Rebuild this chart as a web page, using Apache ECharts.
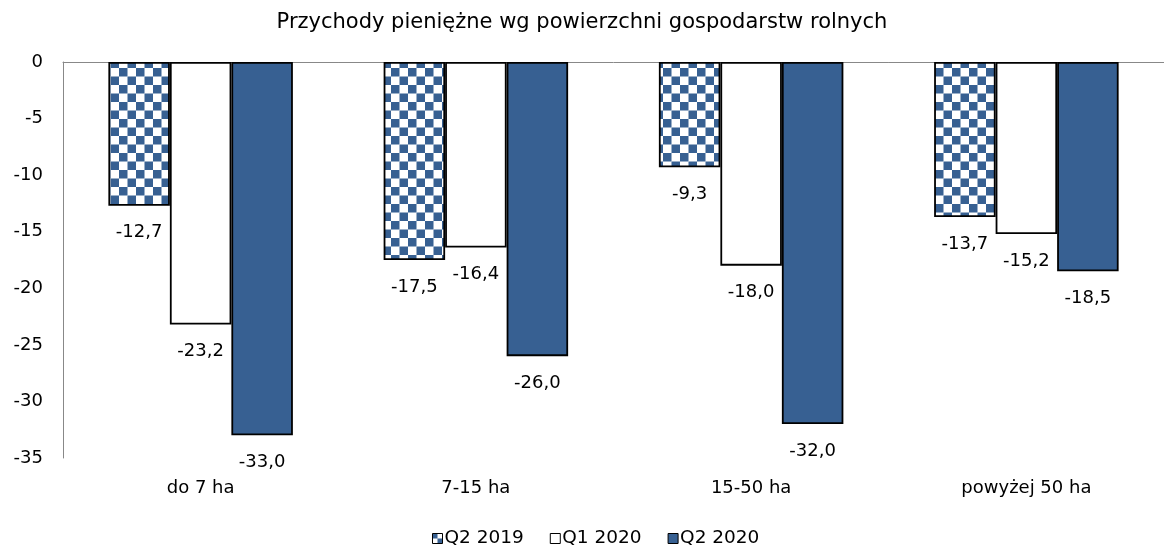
<!DOCTYPE html>
<html>
<head>
<meta charset="utf-8">
<script src="https://cdn.jsdelivr.net/npm/echarts@6/dist/echarts.min.js"></script>
<style>
  html, body { margin: 0; padding: 0; background: #fff; }
  #chart { width: 1164px; height: 556px; }
</style>
</head>
<body>
<div id="chart"></div>
<script>
const FONT = '"DejaVu Sans", Verdana, sans-serif';
const BLUE = "#376092";

const categories = ["do 7 ha", "7-15 ha", "15-50 ha", "powyżej 50 ha"];
const q2_2019 = [-12.7, -17.5, -9.3, -13.7];
const q1_2020 = [-23.2, -16.4, -18.0, -15.2];
const q2_2020 = [-33.0, -26.0, -32.0, -18.5];

// checkerboard fill for the Q2 2019 bars
function checker(size) {
  const c = document.createElement("canvas");
  c.width = c.height = size * 2;
  const ctx = c.getContext("2d");
  ctx.fillStyle = "#fff";
  ctx.fillRect(0, 0, size * 2, size * 2);
  ctx.fillStyle = BLUE;
  ctx.fillRect(0, 0, size, size);
  ctx.fillRect(size, size, size, size);
  return { image: c, repeat: "repeat" };
}

const fmt = (p) => p.value.toFixed(1).replace(".", ",");

const label = {
  show: true,
  position: "bottom",
  distance: 18,
  color: "#000",
  fontSize: 18,
  fontFamily: FONT,
  formatter: fmt,
};

const bar = (name, data, color) => ({
  name,
  type: "bar",
  data,
  barWidth: 61.5,
  barGap: "0%",
  itemStyle: { color, borderColor: "#000", borderWidth: 1.8 },
  label,
});

const chart = echarts.init(document.getElementById("chart"));
chart.setOption({
  animation: false,
  backgroundColor: "#fff",
  title: {
    text: "Przychody pieniężne wg powierzchni gospodarstw rolnych",
    left: "center",
    top: 7,
    textStyle: { color: "#000", fontSize: 21, fontWeight: "normal", fontFamily: FONT },
  },
  grid: { left: 63, top: 62, width: 1105, bottom: 98 },
  legend: {
    bottom: 3,
    left: 427,
    itemWidth: 10,
    itemHeight: 10,
    itemGap: 26,
    icon: "rect",
    textStyle: { color: "#000", fontSize: 18.5, fontFamily: FONT, padding: [0, 0, 0, -3] },
    data: [
      { name: "Q2 2019", itemStyle: { color: checker(5), borderColor: "#000", borderWidth: 1 } },
      { name: "Q1 2020", itemStyle: { color: "#fff", borderColor: "#000", borderWidth: 1 } },
      { name: "Q2 2020", itemStyle: { color: BLUE, borderColor: "#000", borderWidth: 1 } },
    ],
  },
  xAxis: [
    {
      type: "category",
      data: categories,
      position: "bottom",
      axisLine: { show: false },
      axisTick: { show: false },
      axisLabel: { color: "#000", fontSize: 18, fontFamily: FONT, margin: 21 },
    },
    {
      type: "category",
      data: categories,
      position: "top",
      axisLine: { show: true, onZero: false, lineStyle: { color: "#888", width: 1 } },
      axisTick: { show: false },
      axisLabel: { show: false },
    },
  ],
  yAxis: {
    type: "value",
    min: -35,
    max: 0,
    interval: 5,
    axisLine: { show: true, lineStyle: { color: "#888", width: 1 } },
    axisTick: { show: false },
    splitLine: { show: false },
    axisLabel: { color: "#000", fontSize: 18, fontFamily: FONT, margin: 20 },
  },
  series: [
    bar("Q2 2019", q2_2019, checker(8.5)),
    bar("Q1 2020", q1_2020, "#fff"),
    bar("Q2 2020", q2_2020, BLUE),
  ],
});
</script>
</body>
</html>
